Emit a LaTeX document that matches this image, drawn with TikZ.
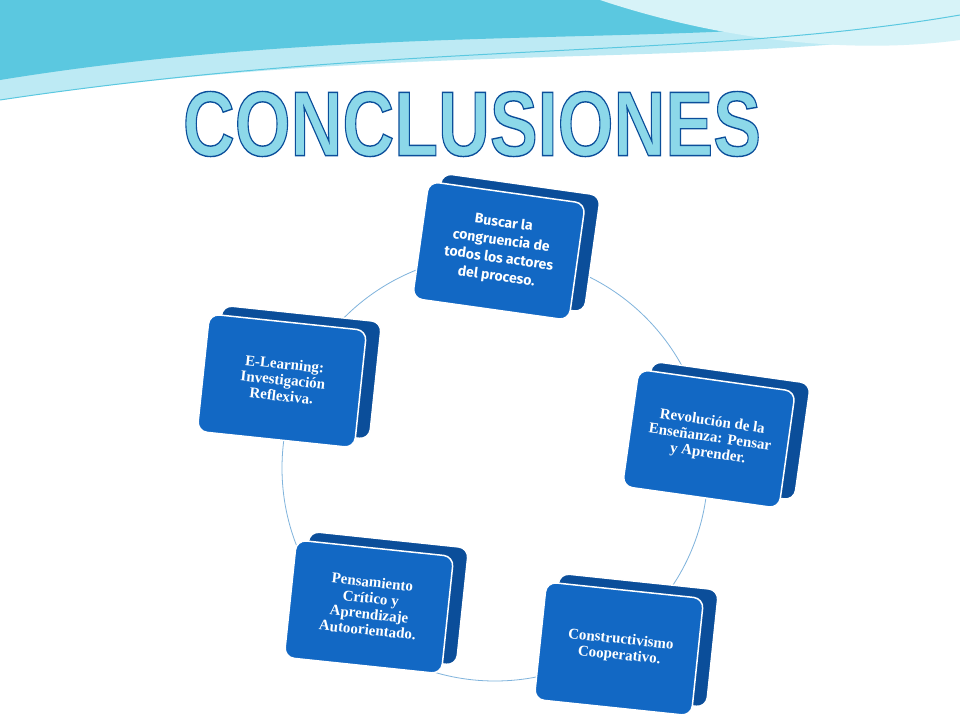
\documentclass[tikz,border=0pt]{standalone}
\usepackage{fontspec}
\setmainfont{Liberation Serif}
\newfontfamily\titlefont{Liberation Sans}
\newfontfamily\comicfont{Fira Sans}
\definecolor{bfront}{HTML}{1268C4}
\definecolor{bback}{HTML}{0B4E9A}
\definecolor{wave}{HTML}{5BC8E0}
\definecolor{wavelight}{HTML}{BDEAF4}
\definecolor{ring}{HTML}{7FB3DC}
\begin{document}
\begin{tikzpicture}[x=1pt,y=-1pt,
  back/.style={fill=bback,rounded corners=10pt,draw=white,line width=1.5pt},
  front/.style={fill=bfront,rounded corners=10pt,draw=white,line width=1.5pt},
  lbl/.style={text=white,font=\bfseries\fontsize{15}{16}\selectfont,align=center}]
\useasboundingbox (0,0) rectangle (960,720);
\fill[white] (0,0) rectangle (960,720);
% header waves
\fill[wavelight] (0,0) -- (960,0) -- (960,30) .. controls (700,70) and (400,40) .. (0,100) -- cycle;
\fill[wave] (0,0) -- (960,0) -- (960,5) .. controls (750,55) and (400,15) .. (0,80) -- cycle;
\fill[wavelight!60] (600,0) -- (960,0) -- (960,40) .. controls (850,55) and (720,40) .. (600,0) -- cycle;
\draw[wave,line width=1pt] (0,100) .. controls (400,40) and (700,60) .. (960,15);
% title
\node[font=\titlefont\bfseries\fontsize{92}{92}\selectfont,text=wave!70,xscale=0.78] (t) at (472,124) {\pgfsetstrokecolor{bback}\pgfsetlinewidth{1.4pt}\special{pdf:literal 2 Tr}CONCLUSIONES\special{pdf:literal 0 Tr}};
% ring
\draw[ring,line width=0.8pt] (495,468) circle (213);
% boxes
\foreach \cx/\cy/\ang/\nm in {500/250/-8/a, 710/438/-8/b, 620/648/-6/c, 370/606/-6/d, 283/380/-6/e}{
  \begin{scope}[shift={(\cx,\cy)},rotate=\ang]
    \draw[back] (-68,-68) rectangle (92,50);
    \draw[front] (-80,-58) rectangle (78,60);
    \coordinate (\nm) at (0,0);
  \end{scope}
}
\node[lbl,font=\comicfont\bfseries\fontsize{14}{18}\selectfont,rotate=-8] (ta) at (a) {Buscar la\\congruencia de\\todos los actores\\del proceso.};
\node[lbl,rotate=-8] (tb) at (b) {Revolución de la\\Enseñanza: Pensar\\y Aprender.};
\node[lbl,rotate=-6] (tc) at (c) {Constructivismo\\Cooperativo.};
\node[lbl,rotate=-6] (td) at (d) {Pensamiento\\Crítico y\\Aprendizaje\\Autoorientado.};
\node[lbl,rotate=-6] (te) at (e) {E-Learning:\\Investigación\\Reflexiva.};
\end{tikzpicture}
\end{document}
